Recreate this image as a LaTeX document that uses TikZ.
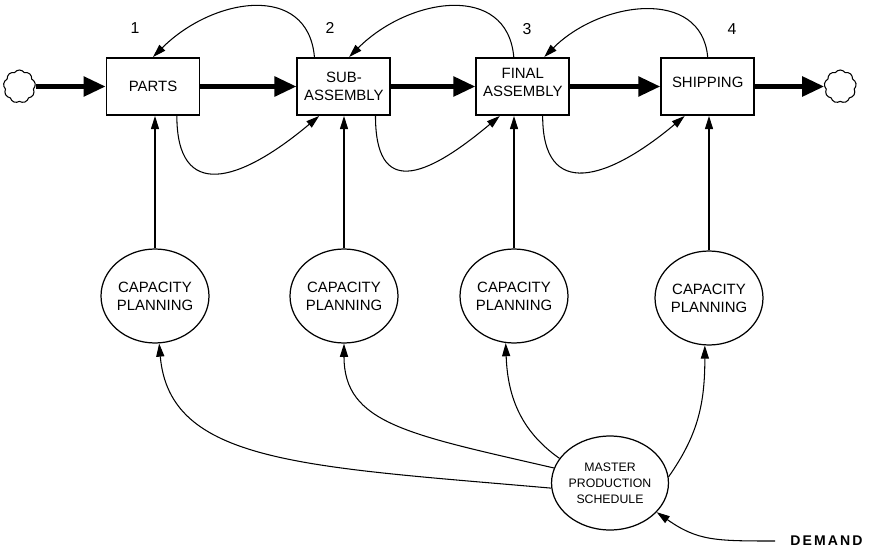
\documentclass[tikz,border=0pt]{standalone}
\usepackage{fontspec}
\setmainfont{Liberation Sans}
\usetikzlibrary{arrows.meta,positioning,shapes.geometric,shapes.symbols}

\begin{document}
\begin{tikzpicture}[
    x=0.02cm, y=0.02cm,
    stage/.style={draw, line width=1.1pt, minimum width=1.86cm, minimum height=1.14cm, inner sep=1pt, align=center, font=\fontsize{8.5}{10.5}\selectfont},
    plan/.style={draw, ellipse, line width=0.7pt, minimum width=2.06cm, minimum height=1.88cm, inner sep=0pt, align=center, font=\fontsize{8.5}{10.3}\selectfont},
    source/.style={draw, cloud, cloud puffs=9, cloud puff arc=110, aspect=1, minimum width=0.64cm, minimum height=0.66cm, inner sep=0pt, line width=0.6pt},
    num/.style={font=\fontsize{9}{9}\selectfont},
    flow/.style={-{Triangle[length=12.5pt,width=11pt]}, line width=2.6pt},
    info/.style={-{Triangle[length=7.5pt,width=4.6pt]}, line width=0.6pt}
]
\useasboundingbox (0,0) rectangle (869,-551);

% production stages
\node[stage] (parts) at (153,-86.5) {PARTS};
\node[stage, right=1.92cm of parts] (sub) {SUB-\\ASSEMBLY};
\node[stage, right=1.68cm of sub] (final) {FINAL\\ASSEMBLY\\[-6pt]\mbox{}};
\node[stage, right=1.8cm of final] (ship) {SHIPPING\\[-6pt]\mbox{}};
\node[source, left=1.4cm of parts] (src) {};
\node[source, right=1.38cm of ship] (sink) {};

\node[num] (n1) at (135,-28) {1};
\node[num] (n2) at (330,-28) {2};
\node[num] (n3) at (527,-29) {3};
\node[num] (n4) at (732,-29) {4};

% planning
\node[plan] (cap1) at (155,-296) {CAPACITY\\PLANNING};
\node[plan] (cap2) at (344,-296) {CAPACITY\\PLANNING};
\node[plan] (cap3) at (514,-296) {CAPACITY\\PLANNING};
\node[plan] (cap4) at (709,-298) {CAPACITY\\PLANNING};
\node[plan, font=\fontsize{7}{9.1}\selectfont] (mps) at (610,-483) {MASTER\\PRODUCTION\\SCHEDULE};
\node[anchor=west, inner xsep=0.3cm, inner ysep=0pt, font=\fontsize{8}{8}\selectfont\bfseries\addfontfeature{LetterSpace=15}] (demand) at (775,-541) {DEMAND};

\draw[flow] (src) -- (parts);
\draw[flow] (parts) -- (sub);
\draw[flow] (sub) -- (final);
\draw[flow] (final) -- (ship);
\draw[flow] (ship) -- (sink);

\draw[info] (cap1.north) -- (cap1.north |- parts.south);
\draw[info] (cap2.north) -- (cap2.north |- sub.south);
\draw[info] (cap3.north) -- (cap3.north |- final.south);
\draw[info] (cap4.north) -- (cap4.north |- ship.south);

% loops between stages
\draw[info] (sub.135) to[out=95, in=45, out distance=1.5cm, in distance=1.7cm] (parts.north);
\draw[info] (final.107) to[out=95, in=45, out distance=1.5cm, in distance=1.7cm] (sub.80);
\draw[info] (ship.north) to[out=95, in=45, out distance=1.4cm, in distance=1.6cm] (final.54);
\draw[info] (parts.-51) to[out=-90, in=-140, out distance=1.7cm, in distance=2.1cm] (sub.-130);
\draw[info] (sub.-43) to[out=-90, in=-140, out distance=1.6cm, in distance=2cm] (final.-128);
\draw[info] (final.-56) to[out=-90, in=-140, out distance=1.7cm, in distance=2cm] (ship.-128);

% schedule to planning
\draw[info] (mps.185) to[out=175, in=-85, out distance=5cm, in distance=2.4cm] (cap1.-85);
\draw[info] (mps.165) to[out=167, in=-90, out distance=3cm, in distance=1.6cm] (cap2.south);
\draw[info] (mps.154) to[out=145, in=-88, out distance=1cm, in distance=1cm] (cap3.-100);
\draw[info] (mps.6) to[out=55, in=-90, out distance=1cm, in distance=1.2cm] (cap4.-95);
\draw[info] (demand.west) to[out=180, in=-35, out distance=1.2cm, in distance=1cm] (mps.-32);
\end{tikzpicture}
\end{document}
